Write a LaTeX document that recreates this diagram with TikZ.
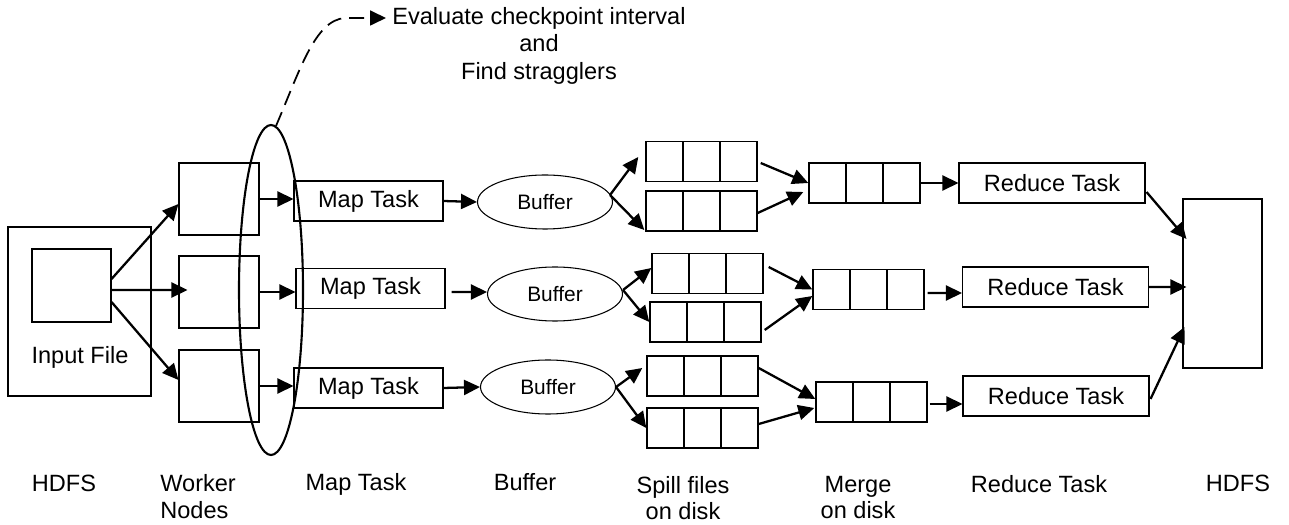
\documentclass[tikz,border=0pt]{standalone}
\usepackage{fontspec}
\setmainfont{Liberation Sans}
\usepackage{tikz}
\usetikzlibrary{arrows.meta,calc,shapes.geometric}
\newcommand{\diagfont}{\fontsize{13.4pt}{15pt}\selectfont}
\newcommand{\buffont}{\fontsize{11.9pt}{14pt}\selectfont}
\newcommand{\evalfont}{\fontsize{13.4pt}{15.6pt}\selectfont}
\tikzset{
plainbox/.style={draw, line width=0.6pt, inner sep=0pt},
taskbox/.style={plainbox, minimum width=29.8mm, minimum height=8mm, font=\diagfont},
reducebox/.style={plainbox, minimum width=37.2mm, minimum height=8mm, font=\diagfont},
workerbox/.style={plainbox, minimum width=16mm, minimum height=14.4mm},
spillbox/.style={
	plainbox,
	line width=0.8pt,
	minimum width=22.2mm,
	minimum height=8mm,
	path picture={
		\draw[line width=0.8pt]
		($(path picture bounding box.north west)!1/3!(path picture bounding box.north east)$)--
		($(path picture bounding box.south west)!1/3!(path picture bounding box.south east)$);
		\draw[line width=0.8pt]
		($(path picture bounding box.north west)!2/3!(path picture bounding box.north east)$)--
		($(path picture bounding box.south west)!2/3!(path picture bounding box.south east)$);
	}
},
bufnode/.style={draw, ellipse, line width=0.6pt, inner sep=0pt, minimum width=27mm, minimum height=10.8mm, font=\buffont},
flowarrow/.style={-{Triangle[length=3.2mm,width=3mm]}, line width=1.3pt},
footlabel/.style={font=\diagfont, align=center, anchor=north, inner sep=0pt}
}

\begin{document}
\begin{tikzpicture}[x=0.2mm,y=-0.2mm]
% one unit = one pixel of the 1289 x 525 layout, y runs downwards
\useasboundingbox (0,0) rectangle (1289,525);

% ── HDFS input ─────────────────────────────────────────────────
\node[plainbox, minimum width=28.6mm, minimum height=33.8mm] (hdfsin) at (79.5,311.5) {};
\node[plainbox, minimum width=15.8mm, minimum height=14.6mm] (infile) at (71.5,285.5) {};
\node[font=\diagfont, inner sep=0pt] (inlabel) at (80,357) {Input File};

% ── Worker nodes ───────────────────────────────────────────────
\node[workerbox] (work1) at (219,199) {};
\node[workerbox] (work2) at (219,292) {};
\node[workerbox] (work3) at (219,386) {};

% ── Map tasks ──────────────────────────────────────────────────
\node[taskbox] (map1) at (368.5,201) {Map Task};
\node[taskbox] (map2) at (370.5,288.5) {Map Task};
\node[taskbox] (map3) at (368.5,388) {Map Task};

% ── Straggler check ring ───────────────────────────────────────
\node[draw, ellipse, line width=1.2pt, inner sep=0pt, minimum width=12.8mm, minimum height=66mm] (ring) at (271,290) {};

% ── Buffers ────────────────────────────────────────────────────
\node[bufnode] (buf1) at (545,202) {Buffer};
\node[bufnode] (buf2) at (555,294) {Buffer};
\node[bufnode] (buf3) at (548,387) {Buffer};

% ── Spill files on disk ────────────────────────────────────────
\node[spillbox] (sp1a) at (701.5,161.5) {};
\node[spillbox] (sp1b) at (701.5,211) {};
\node[spillbox] (sp2a) at (707.5,273.5) {};
\node[spillbox] (sp2b) at (705.5,322) {};
\node[spillbox] (sp3a) at (702.5,376) {};
\node[spillbox] (sp3b) at (702.5,428) {};

% ── Merge on disk ──────────────────────────────────────────────
\node[spillbox] (mg1) at (864.5,183) {};
\node[spillbox] (mg2) at (868.5,289.5) {};
\node[spillbox] (mg3) at (871.5,402) {};

% ── Reduce tasks ───────────────────────────────────────────────
\node[reducebox] (rd1) at (1052,183) {Reduce Task};
\node[reducebox] (rd2) at (1055.5,287) {Reduce Task};
\node[reducebox] (rd3) at (1056,396) {Reduce Task};

% ── HDFS output ────────────────────────────────────────────────
\node[plainbox, minimum width=15.8mm, minimum height=33.8mm] (hdfsout) at (1222.5,283.5) {};

% ── Input file -> workers -> map tasks ─────────────────────────
\draw[flowarrow] ($(infile.east)+(0,-6.5)$)--($(work1.west)+(0,5)$);
\draw[flowarrow] ($(infile.east)+(0,4.5)$)--($(work2.west)+(9,-2)$);
\draw[flowarrow] ($(infile.east)+(0,16.5)$)--($(work3.west)+(0,-6)$);
\draw[flowarrow] (work1.east)--(work1.east -| map1.west);
\draw[flowarrow] (work2.east)--(work2.east -| map2.west);
\draw[flowarrow] (work3.east)--(work3.east -| map3.west);

% ── Map tasks -> buffers ───────────────────────────────────────
\draw[flowarrow] (map1.east)--(buf1.west);
\draw[flowarrow] ($(map2.east)+(6,3.5)$)--($(buf2.west)+(0,-2)$);
\draw[flowarrow] (map3.east)--(buf3.west);

% ── Buffers -> spill files ─────────────────────────────────────
\draw[flowarrow] ($(buf1.east)+(-3,-7)$)--($(sp1a.west)+(-7,-4.5)$);
\draw[flowarrow] ($(buf1.east)+(-3,-7)$)--($(sp1b.west)+(-1,19)$);
\draw[flowarrow] ($(buf2.east)+(0,-4)$)--($(sp2a.west)+(0,-5.5)$);
\draw[flowarrow] ($(buf2.east)+(0,-4)$)--(sp2b.west);
\draw[flowarrow] (buf3.east)--($(sp3a.west)+(-4,-8)$);
\draw[flowarrow] (buf3.east)--(sp3b.west);

% ── Spill files -> merge ───────────────────────────────────────
\draw[flowarrow] ($(sp1a.east)+(3,1.5)$)--(mg1.west);
\draw[flowarrow] ($(sp1b.east)+(0,2)$)--($(mg1.west)+(-5,9)$);
\draw[flowarrow] ($(sp2a.east)+(5,-6.5)$)--(mg2.west);
\draw[flowarrow] ($(sp2b.east)+(3,8)$)--($(mg2.west)+(0,6.5)$);
\draw[flowarrow] ($(sp3a.east)+(0,-8)$)--($(mg3.west)+(0,-3)$);
\draw[flowarrow] ($(sp3b.east)+(0,-4)$)--($(mg3.west)+(-1,6)$);

% ── Merge -> reduce -> HDFS ────────────────────────────────────
\draw[flowarrow] (mg1.east)--(mg1.east -| rd1.west);
\draw[flowarrow] ($(mg2.east)+(3,3.5)$)--($(rd2.west)+(0,6)$);
\draw[flowarrow] ($(mg3.east)+(2,2)$)--($(rd3.west)+(0,8)$);
\draw[flowarrow] ($(rd1.east)+(1,9)$)--($(hdfsout.west)+(4,-44.5)$);
\draw[flowarrow] (rd2.east)--($(hdfsout.west)+(4,3.5)$);
\draw[flowarrow] ($(rd3.east)+(1,3)$)--($(hdfsout.west)+(2,43.5)$);

% ── Checkpoint evaluation ──────────────────────────────────────
\node[font=\evalfont, align=center, anchor=north, inner sep=0pt] (eval) at (539,7)
 {Evaluate checkpoint interval\\and\\Find stragglers};
\coordinate (evaltip) at (386,18);
\draw[flowarrow, line width=1pt, dash pattern=on 8.5pt off 4.5pt]
 ($(ring.north)+(5,2)$) .. controls (300,70) and (315,20) .. (345,18)--(evaltip);

% ── Stage captions ─────────────────────────────────────────────
\node[footlabel] (capin) at (64,474.5) {HDFS};
\node[footlabel, align=left, anchor=north west] (capwork) at (160,474.5) {Worker\\Nodes};
\node[footlabel] (capmap) at (356,473) {Map Task};
\node[footlabel] (capbuf) at (525,473) {Buffer};
\node[footlabel] (capspill) at (683,476) {Spill files\\on disk};
\node[footlabel] (capmerge) at (858,476) {Merge\\on disk};
\node[footlabel] (capred) at (1039,475) {Reduce Task};
\node[footlabel] (capout) at (1238,475) {HDFS};
\end{tikzpicture}
\end{document}
